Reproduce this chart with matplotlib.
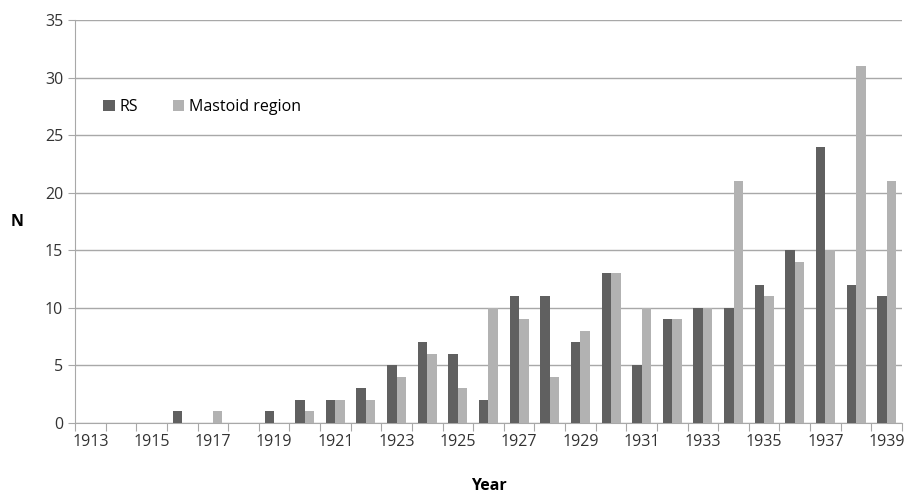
import numpy as np
import matplotlib.pyplot as plt

# yearly counts
years = list(range(1913, 1940))
rs = [0, 0, 0, 1, 0, 0, 1, 2, 2, 3, 5, 7, 6, 2, 11, 11, 7, 13, 5, 9, 10, 10, 12, 15, 24, 12, 11]
mastoid = [0, 0, 0, 0, 1, 0, 0, 1, 2, 2, 4, 6, 3, 10, 9, 4, 8, 13, 10, 9, 10, 21, 11, 14, 15, 31, 21]

plt.rcParams['font.family'] = ['Open Sans', 'DejaVu Sans']

fig = plt.figure(figsize=(9.12, 4.95), dpi=100)
ax = fig.add_axes([75 / 912, 1 - 423 / 495, 827 / 912, 403 / 495])

x = np.arange(len(years))
w = 0.31
dark = '#606060'
light = '#b2b2b2'
ax.bar(x - w / 2, rs, w, color=dark, label='RS', zorder=3)
ax.bar(x + w / 2, mastoid, w, color=light, label='Mastoid region', zorder=3)

ax.set_xlim(-0.5, len(years) - 0.5)
ax.set_ylim(0, 35)
ax.set_yticks(range(0, 36, 5))
ax.yaxis.grid(True, color='#a8a8a8', linewidth=1, zorder=0)
ax.tick_params(axis='y', length=5, color='#a8a8a8', labelsize=11.5, colors='#333333')

# ticks between categories, labels on every other year
ax.set_xticks(np.arange(-0.5, len(years), 1))
ax.set_xticklabels([])
ax.set_xticks(x[::2], minor=True)
ax.set_xticklabels([str(y) for y in years[::2]], minor=True)
ax.tick_params(axis='x', which='major', length=6, color='#a8a8a8')
ax.tick_params(axis='x', which='minor', length=0, labelsize=11.5, colors='#333333', pad=8)

for s in ['top', 'right']:
    ax.spines[s].set_visible(False)
ax.spines['left'].set_color('#a8a8a8')
ax.spines['bottom'].set_color('#a8a8a8')

ax.set_ylabel('N', rotation=0, fontsize=11.5, fontweight='bold', labelpad=20, va='center')
ax.set_xlabel('Year', fontsize=11.5, fontweight='bold', labelpad=20)

ax.legend(loc='upper left', bbox_to_anchor=(0.017, 0.84), ncol=2, frameon=False,
          fontsize=11.5, handlelength=0.7, handleheight=0.7, handletextpad=0.3,
          columnspacing=2.2)

fig.savefig('out.png', dpi=100)
